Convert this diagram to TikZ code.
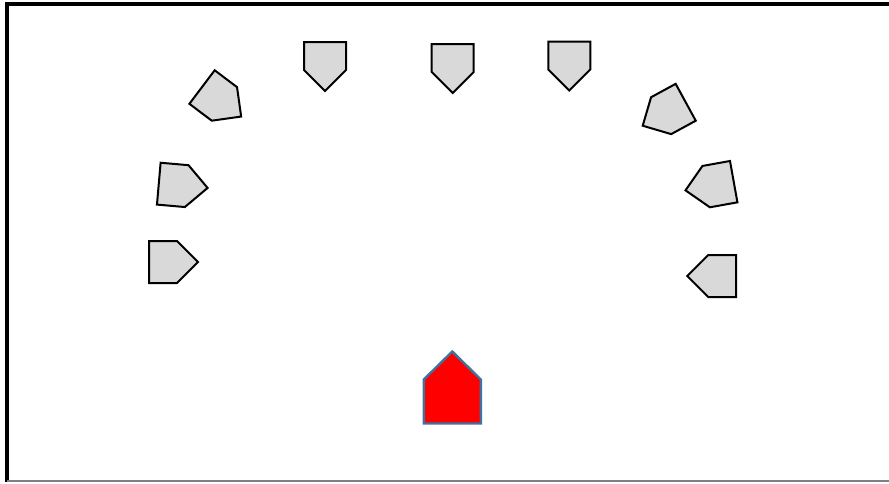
\documentclass[tikz,border=0pt]{standalone}
\usepackage{xcolor}
\usepackage{tikz}

\definecolor{plategray}{HTML}{D9D9D9}
\definecolor{houseblue}{HTML}{41719C}

\begin{document}
\begin{tikzpicture}[
 x=0.75pt,y=-0.75pt,
 frame/.style={line width=2.6pt,black},
 plateline/.style={draw=black,fill=plategray,line width=1.5pt,line join=miter},
 houseline/.style={draw=houseblue,fill=red,line width=1.8pt,line join=miter},
 plate/.pic={\draw[plateline] (-24.5,-21) -- (3.5,-21) -- (24.5,0) -- (3.5,21) -- (-24.5,21) -- cycle;},
 house/.pic={\draw[houseline] (-36,-28.5) -- (8,-28.5) -- (36,0) -- (8,28.5) -- (-36,28.5) -- cycle;}
]
\useasboundingbox (0,0) rectangle (889,483);

% outer frame, cut at the right edge
\draw[frame] (892,4) -- (7,4) -- (7,482);
\draw[gray,line width=0.9pt] (7,481) -- (892,481);

% left side
\pic[rotate=0] (pl1) at (173.5,262) {plate};
\pic[rotate=-5] (pl2) at (183.2,185.8) {plate};
\pic[rotate=-37] (pl3) at (221.6,101.8) {plate};

% top row
\pic[rotate=-90] (pt1) at (325,66.5) {plate};
\pic[rotate=-90] (pt2) at (452.7,68.5) {plate};
\pic[rotate=-90] (pt3) at (569.3,66) {plate};

% right side
\pic[rotate=-151.4] (pr3) at (664.2,114) {plate};
\pic[rotate=-169.8] (pr2) at (709.6,186) {plate};
\pic[rotate=180] (pr1) at (711.7,276) {plate};

% red one at the bottom
\pic[rotate=90] (home) at (452.3,387.5) {house};
\end{tikzpicture}
\end{document}
